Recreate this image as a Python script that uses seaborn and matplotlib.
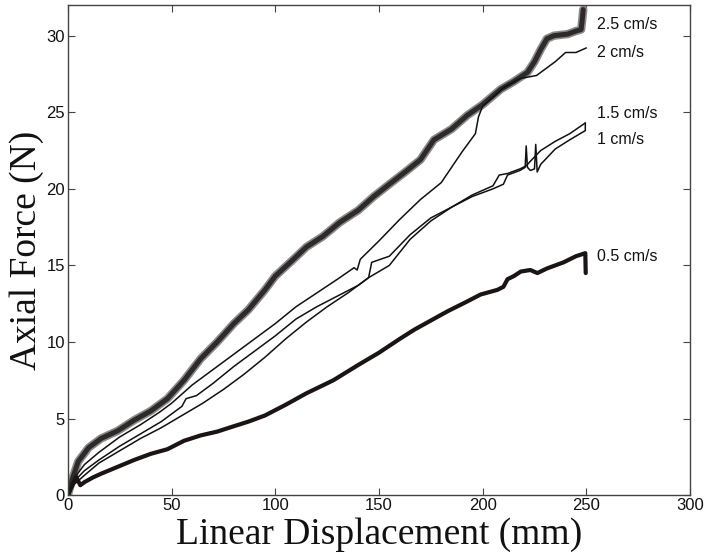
import pandas as pd
import seaborn as sns
import matplotlib.pyplot as plt

# Axial force vs. linear displacement at five insertion speeds
x_25 = [0, 2, 5, 10, 16, 24, 32, 40, 48, 56, 64, 72, 80, 87, 95, 100, 108, 115, 123, 131,
        140, 147.5, 155, 163.6, 170, 176.5, 185, 192.6, 200, 208.7, 215, 221.6, 225, 228,
        231, 234.4, 240.9, 245, 247.5, 248, 248.5]
y_25 = [0, 1.0, 2.2, 3.1, 3.7, 4.2, 4.9, 5.5, 6.3, 7.5, 8.9, 10.0, 11.2, 12.1, 13.4, 14.3,
        15.3, 16.2, 16.9, 17.8, 18.6, 19.5, 20.3, 21.2, 21.9, 23.2, 23.9, 24.8, 25.5, 26.5,
        27.0, 27.6, 28.3, 29.1, 29.8, 30.0, 30.1, 30.3, 30.4, 31.0, 31.7]

x_20 = [0, 3, 8, 15, 25, 35, 44, 50, 55, 60, 70, 80, 90, 100, 110, 120, 130, 138, 139.5,
        141, 150, 160, 170, 180, 190, 196.5, 198, 200, 210, 218, 222, 226, 230, 235, 240,
        245, 250]
y_20 = [0, 1.1, 2.0, 2.8, 3.8, 4.6, 5.4, 6.0, 6.6, 7.2, 8.2, 9.2, 10.2, 11.2, 12.3, 13.2,
        14.1, 14.85, 14.7, 15.4, 16.6, 18.0, 19.3, 20.4, 22.4, 23.6, 24.7, 25.4, 26.6, 27.2,
        27.3, 27.4, 27.8, 28.3, 28.9, 28.9, 29.2]

x_15 = [0, 3, 8, 15, 25, 35, 45, 55, 57, 62, 70, 80, 90, 100, 110, 120, 130, 140, 145,
        146.5, 155, 165, 175, 185, 195, 205, 208, 212, 218, 221, 223, 228, 235, 242, 249.5]
y_15 = [0, 0.9, 1.6, 2.3, 3.2, 4.0, 4.8, 5.8, 6.3, 6.5, 7.3, 8.4, 9.4, 10.4, 11.5, 12.3,
        13.0, 13.7, 14.2, 15.2, 15.6, 17.0, 18.1, 18.8, 19.6, 20.2, 20.9, 21.0, 21.3, 21.5,
        21.8, 22.5, 23.1, 23.6, 24.3]

x_10 = [0, 3, 8, 15, 25, 35, 45, 55, 65, 75, 85, 95, 105, 115, 125, 135, 145, 155, 165,
        175, 185, 195, 205, 210, 212, 218, 220.5, 221, 221.6, 223, 225, 225.6, 226.3, 228,
        235, 242, 249.5, 249.5]
y_10 = [0, 0.7, 1.3, 2.1, 2.9, 3.7, 4.4, 5.2, 6.0, 6.9, 7.9, 9.0, 10.2, 11.3, 12.3, 13.2,
        14.2, 15.0, 16.7, 17.9, 18.8, 19.5, 20.0, 20.3, 20.9, 21.2, 21.4, 22.8, 21.4, 21.2,
        21.3, 22.9, 21.1, 21.6, 22.6, 23.2, 23.8, 24.3]

x_05 = [0, 2, 4, 6, 8, 12, 16, 24, 32, 40, 48, 56, 64, 72, 80, 87, 95, 105, 115, 128, 140,
        150, 160, 167, 175, 183, 192.6, 199, 207, 210, 212, 215, 218.4, 223, 226.4, 231,
        239, 245, 249.5, 249.7]
y_05 = [0, 0.6, 1.2, 0.65, 0.85, 1.15, 1.4, 1.85, 2.3, 2.7, 3.0, 3.55, 3.9, 4.15, 4.5, 4.8,
        5.2, 5.9, 6.65, 7.5, 8.5, 9.3, 10.2, 10.8, 11.4, 12.0, 12.65, 13.1, 13.4, 13.6, 14.1,
        14.3, 14.6, 14.7, 14.5, 14.8, 15.2, 15.6, 15.8, 14.5]

speed_labels = ["2.5 cm/s", "2 cm/s", "1.5 cm/s", "1 cm/s", "0.5 cm/s"]
label_y = [30.7, 28.9, 24.9, 23.2, 15.6]

sns.set_theme(style="ticks")
plt.rcParams['font.family'] = ['Liberation Sans', 'DejaVu Sans']


def make_df(x, y):
    return pd.DataFrame({"x": x, "y": y})


fig = plt.figure(figsize=(7.07, 5.57), dpi=100)
ax = fig.add_axes([0.096, 0.111, 0.880, 0.880])

# 2.5 cm/s is a noisy band: light fuzz underneath, dark core on top
d25 = make_df(x_25, y_25)
sns.lineplot(data=d25, x="x", y="y", ax=ax, color="#8a8a8a", linewidth=6.0,
             estimator=None, sort=False)
sns.lineplot(data=d25, x="x", y="y", ax=ax, color="#2e2a2a", linewidth=3.6,
             estimator=None, sort=False)

for x, y in [(x_20, y_20), (x_15, y_15), (x_10, y_10)]:
    sns.lineplot(data=make_df(x, y), x="x", y="y", ax=ax, color="#111111",
                 linewidth=1.1, estimator=None, sort=False)

sns.lineplot(data=make_df(x_05, y_05), x="x", y="y", ax=ax, color="#1a1414",
             linewidth=3.0, estimator=None, sort=False)

for lab, ly in zip(speed_labels, label_y):
    ax.text(255, ly, lab, fontsize=11.5, va="center", ha="left", color="#111111")

ax.set_xlim(0, 300)
ax.set_ylim(0, 32)
ax.set_xticks([0, 50, 100, 150, 200, 250, 300])
ax.set_yticks([0, 5, 10, 15, 20, 25, 30])
ax.tick_params(direction="in", length=5, width=0.8, top=True, right=True,
               labelsize=12, colors="#444444", labelcolor="#111111", pad=2)
for sp in ax.spines.values():
    sp.set_visible(True)
    sp.set_color("#444444")
    sp.set_linewidth(1.0)

ax.set_xlabel("Linear Displacement (mm)", family=["Liberation Serif", "DejaVu Serif"],
              fontsize=27, labelpad=3, color="#111111")
ax.set_ylabel("Axial Force (N)", family=["Liberation Serif", "DejaVu Serif"],
              fontsize=27, labelpad=2, color="#111111")

fig.savefig("out.png", dpi=100)
